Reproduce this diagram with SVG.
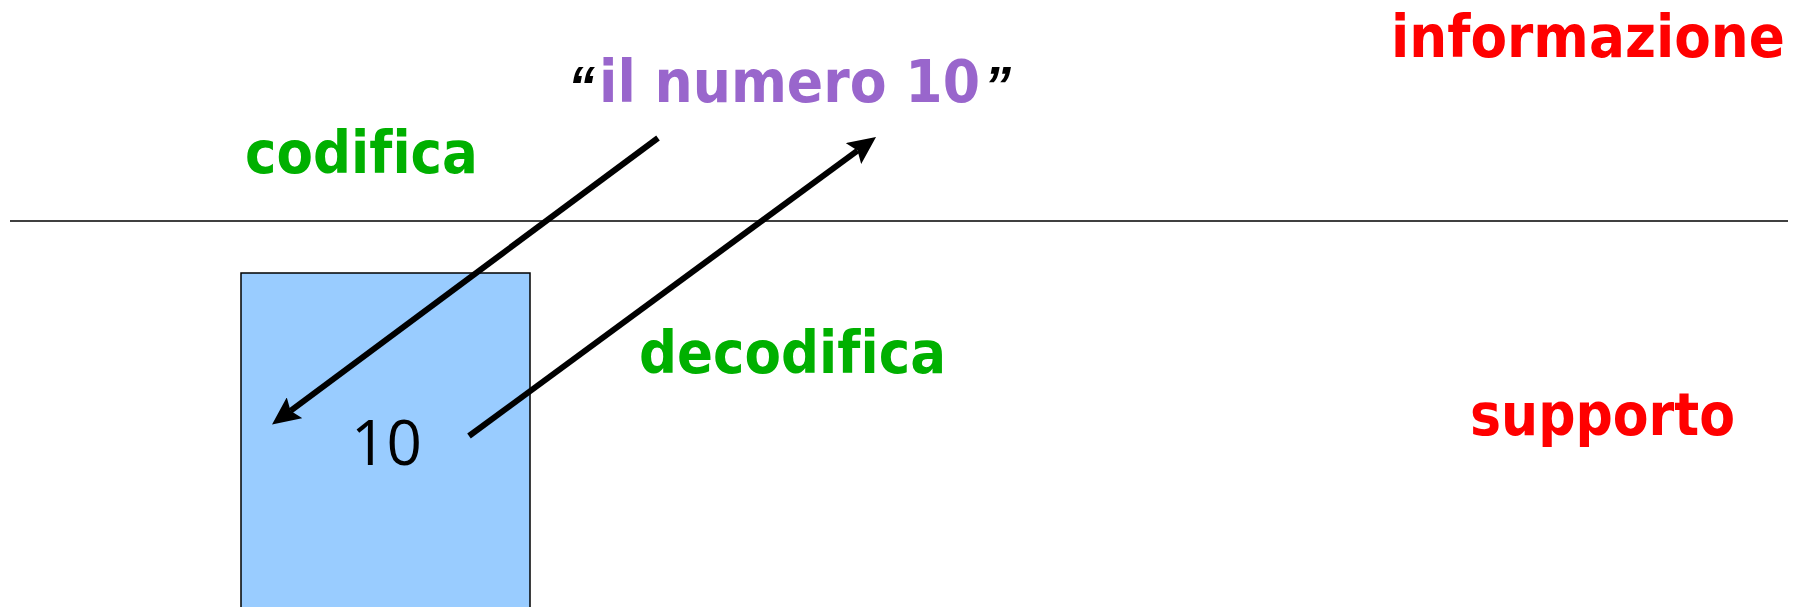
<svg xmlns="http://www.w3.org/2000/svg" width="1800" height="607" viewBox="0 0 1800 607">
<style>
.lbl{font-family:"DejaVu Sans","Liberation Sans",sans-serif;font-weight:bold;font-size:59px;font-variant-ligatures:none}
.q{font-family:"Liberation Sans",Arial,sans-serif;font-weight:bold;font-size:54px;font-style:italic}
.red{fill:#FF0000}
.green{fill:#00B000}
.purple{fill:#9966CC}
.conn{stroke:#000;stroke-width:6;fill:none}
</style>
<defs>
<marker id="ah" viewBox="0 0 28 26" refX="5" refY="13" markerWidth="28" markerHeight="26" markerUnits="userSpaceOnUse" orient="auto">
<path d="M0,0 L28,13 L0,26 L5,13 Z" fill="#000"/>
</marker>
</defs>
<rect width="1800" height="607" fill="#fff"/>
<line x1="10" y1="221" x2="1788" y2="221" stroke="#000" stroke-width="1.6"/>
<g id="supporto-box">
<rect x="241" y="273" width="289" height="350" fill="#99CCFF" stroke="#000" stroke-width="1.5"/>
<text x="386.5" y="465" text-anchor="middle" style="font-family:'Open Sans','DejaVu Sans',sans-serif;font-size:62px" fill="#000">10</text>
</g>
<g id="informazione-text">
<text class="q" x="568" y="104" fill="#000">“</text>
<text class="lbl purple" x="599" y="102" textLength="381" lengthAdjust="spacingAndGlyphs">il numero 10</text>
<text class="q" x="984" y="104" fill="#000">”</text>
</g>
<g id="label-informazione"><text class="lbl red" x="1391" y="57" textLength="394" lengthAdjust="spacingAndGlyphs">informazione</text></g>
<g id="label-supporto"><text class="lbl red" x="1470" y="435" textLength="265" lengthAdjust="spacingAndGlyphs">supporto</text></g>
<g id="label-codifica"><text class="lbl green" x="245" y="173" textLength="233" lengthAdjust="spacingAndGlyphs">codifica</text></g>
<g id="label-decodifica"><text class="lbl green" x="639" y="373" textLength="307" lengthAdjust="spacingAndGlyphs">decodifica</text></g>
<g id="connectors">
<line class="conn" x1="658" y1="138" x2="290.5" y2="410.8" marker-end="url(#ah)"/>
<line class="conn" x1="469" y1="436" x2="857.5" y2="150.6" marker-end="url(#ah)"/>
</g>
</svg>
